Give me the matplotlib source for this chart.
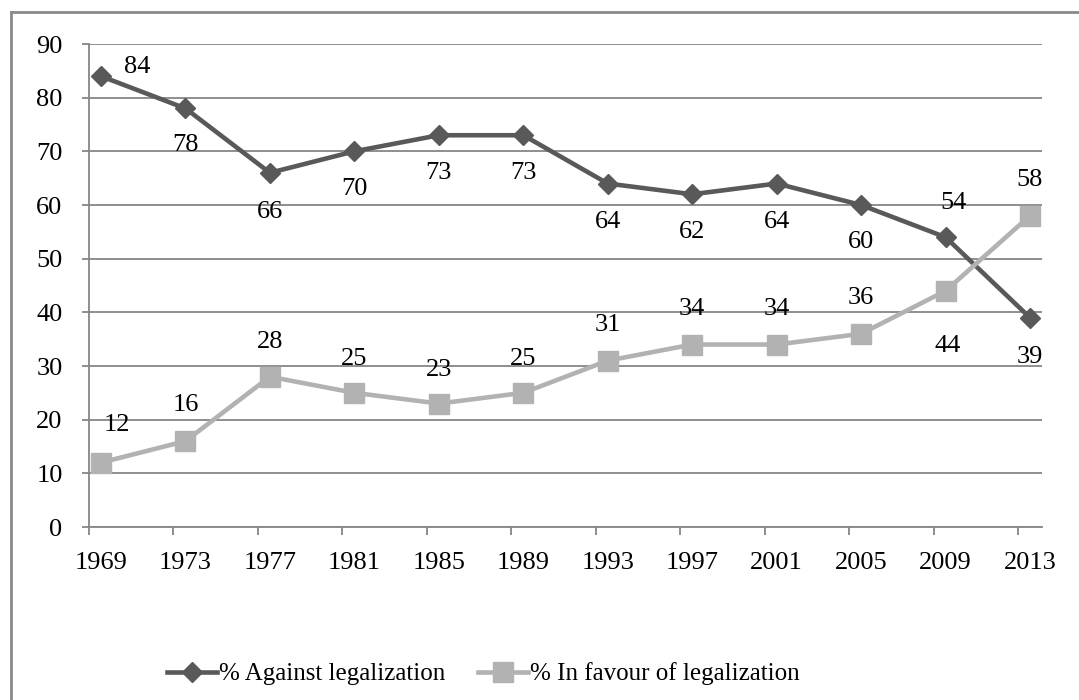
import matplotlib
matplotlib.use('Agg')
import matplotlib.pyplot as plt
from matplotlib.lines import Line2D
import numpy as np

# chart data
years = ['1969', '1973', '1977', '1981', '1985', '1989', '1993', '1997', '2001', '2005', '2009', '2013']
against = [84, 78, 66, 70, 73, 73, 64, 62, 64, 60, 54, 39]
favour = [12, 16, 28, 25, 23, 25, 31, 34, 34, 36, 44, 58]

# label offsets in pixels (dx, dy), dy positive = up
against_off = [(36, 9), (0, -37), (0, -39), (0, -38), (0, -38), (0, -38),
               (0, -38), (0, -38), (0, -38), (0, -37), (8, 34), (0, -39)]
favour_off = [(16, 38), (0, 36), (0, 35), (0, 34), (0, 34), (0, 34),
              (0, 36), (0, 36), (0, 36), (0, 36), (2, -55), (0, 36)]

dark = '#595959'
light = '#b2b2b2'
gridc = '#868686'

plt.rcParams['font.family'] = ['Liberation Serif', 'DejaVu Serif']
plt.rcParams['font.size'] = 19

fig = plt.figure(figsize=(10.79, 7.0), dpi=100)
ax = fig.add_axes([89/1079, 1 - 527/700, (1042 - 89)/1079, (527 - 44)/700])

x = np.arange(len(years))
ax.plot(x, against, color=dark, lw=3.3, marker='D', ms=10, label='% Against legalization', zorder=3)
ax.plot(x, favour, color=light, lw=3.3, marker='s', ms=15, label='% In favour of legalization', zorder=3)

for i in range(len(years)):
    ax.annotate(str(against[i]), (x[i], against[i]), xytext=against_off[i],
                textcoords='offset pixels', ha='center', va='center')
    ax.annotate(str(favour[i]), (x[i], favour[i]), xytext=favour_off[i],
                textcoords='offset pixels', ha='center', va='center')

pad = 0.142
ax.set_xlim(-pad, len(years) - 1 + pad)
ax.set_ylim(0, 90)
ax.set_yticks(range(0, 91, 10))
ax.set_xticks(x)
ax.set_xticklabels(years)
ax.set_xticks(x - pad, minor=True)
ax.tick_params(axis='x', which='major', length=0, pad=18)
ax.tick_params(axis='x', which='minor', length=6, width=1.3, color=gridc)
ax.tick_params(axis='y', length=5, width=1.3, color=gridc, pad=14)

ax.grid(axis='y', color=gridc, lw=1.3)
ax.set_axisbelow(True)
for s in ['top', 'right']:
    ax.spines[s].set_visible(False)
for s in ['left', 'bottom']:
    ax.spines[s].set_color(gridc)
    ax.spines[s].set_linewidth(1.3)

fig.legend(loc='center', bbox_to_anchor=(0.448, 1 - 674/700), ncol=2, frameon=False,
           fontsize=18, handlelength=2.0, columnspacing=1.3, handletextpad=0.1)

# outer chart border (cut off by the image edges)
fig.add_artist(Line2D([11/1079, 11/1079], [0, 1 - 12/700], color='#8a8a8a', lw=2))
fig.add_artist(Line2D([11/1079, 1], [1 - 12/700, 1 - 12/700], color='#8a8a8a', lw=2))

fig.savefig('out.png', dpi=100)
